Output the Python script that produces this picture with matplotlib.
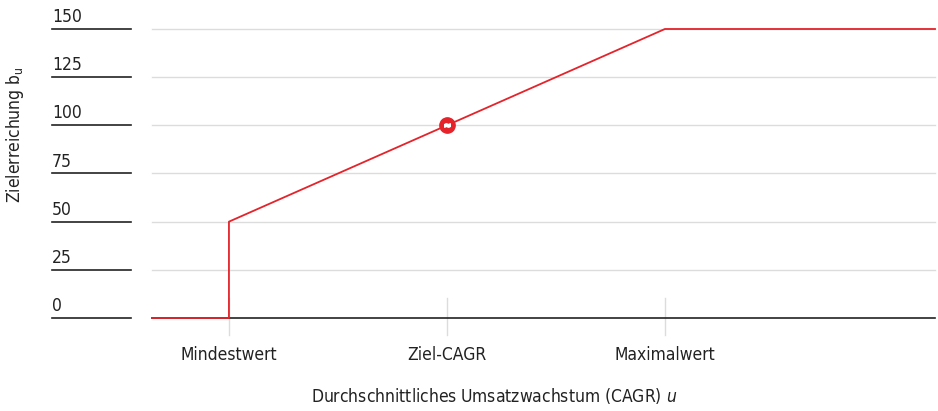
import matplotlib
matplotlib.use("Agg")
import matplotlib.pyplot as plt
from matplotlib import font_manager
import matplotlib.transforms as mtrans

# ---- data ----
x_positions = [0.647, 1.0, 1.0, 2.0, 3.0, 4.239]
y_values = [0, 0, 50, 100, 150, 150]
target_x = [2.0]
target_y = [100]
xtick_pos = [1.0, 2.0, 3.0]
xtick_labels = ["Mindestwert", "Ziel-CAGR", "Maximalwert"]
ytick_vals = [0, 25, 50, 75, 100, 125, 150]

names = {f.name for f in font_manager.fontManager.ttflist}
fam = "DejaVu Sans"
for cand in ["Liberation Sans Narrow", "DejaVu Sans Condensed"]:
    if cand in names:
        fam = cand
        break
plt.rcParams['font.family'] = [fam, 'DejaVu Sans']
plt.rcParams['font.stretch'] = 'condensed'
plt.rcParams['mathtext.fontset'] = 'custom'
plt.rcParams['mathtext.rm'] = fam
plt.rcParams['mathtext.it'] = fam + ':italic'

W, H = 938, 411
fig = plt.figure(figsize=(W/100, H/100), dpi=100)
ax = fig.add_axes([152/W, (H-318)/H, 783/W, 289/H])
ax.set_xlim(0.647, 4.239)
ax.set_ylim(0, 150)
for s in ax.spines.values():
    s.set_visible(False)
ax.set_xticks([]); ax.set_yticks([])

red = "#e5232a"
grid = "#dcdcdc"
txt = "#222222"
fs = 12.5

for v in ytick_vals[1:]:
    ax.axhline(v, color=grid, lw=1.0, zorder=1, clip_on=False)
ax.axhline(0, color="#222222", lw=1.2, zorder=2, clip_on=False)

# vertical ticks
for xp in xtick_pos:
    ax.plot([xp, xp], [-8.8, 10.4], color=grid, lw=1.0, zorder=1, clip_on=False)

ax.plot(x_positions, y_values, color=red, lw=1.3, zorder=4, clip_on=False)
ax.plot(target_x, target_y, 'o', ms=11, color=red, mec=red, zorder=5, clip_on=False)
ax.plot(target_x, target_y, marker=r'$\approx$', ms=4, color='white', zorder=6, clip_on=False)

# y tick labels with underline
tr = mtrans.blended_transform_factory(fig.transFigure, ax.transData)
for v in ytick_vals:
    ax.plot([52/W, 131/W], [v, v], color="#222222", lw=1.2, transform=tr, clip_on=False)
    ax.annotate(str(v), xy=(52/W, v), xycoords=tr, xytext=(0, 5), textcoords='offset points',
                ha='left', va='baseline', fontsize=fs, color=txt)

for xp, lab in zip(xtick_pos, xtick_labels):
    ax.annotate(lab, xy=(xp, 0), xycoords='data', xytext=(0, -30), textcoords='offset points',
                ha='center', va='baseline', fontsize=fs, color=txt)

fig.text(494/W, 1-402/H, r"Durchschnittliches Umsatzwachstum (CAGR) $\mathit{u}$",
         ha='center', va='baseline', fontsize=fs, color=txt)
fig.text(15/W, 1-135/H, r"Zielerreichung b$_\mathregular{u}$", rotation=90,
         ha='center', va='center', fontsize=fs, color=txt)

fig.savefig("out.png", dpi=100)
